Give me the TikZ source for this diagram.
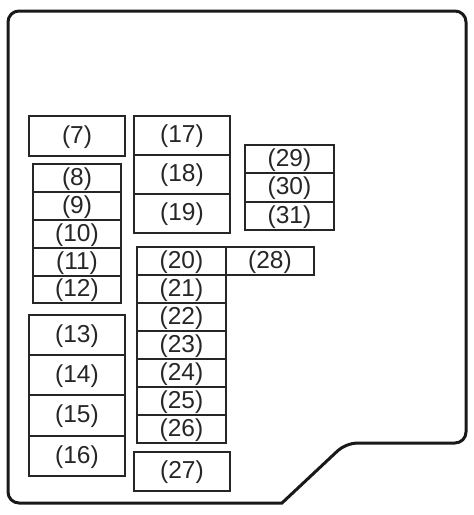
\documentclass[tikz,border=0pt]{standalone}
\usepackage{fontspec}
\setmainfont{Liberation Sans}
\begin{document}
\begin{tikzpicture}[x=1pt,y=-1pt,
  fuse/.style={draw=black!85,line width=1.2pt,inner sep=0pt,outer sep=0pt,text=black!85,font=\fontsize{24.5}{24.5}\selectfont}]
\useasboundingbox (0,0) rectangle (474,515);
% outline
\draw[line width=3pt,rounded corners=11pt,black!90]
  (8,11) -- (466,11) -- (466,443) -- (346,443) [sharp corners]-- (282,503) [rounded corners=11pt] -- (8,503) -- cycle;
\newcommand{\fusebox}[6]{% name x1 y1 x2 y2 label
  \node[fuse,minimum width=#4-#2,minimum height=#5-#3,anchor=north west] (#1) at (#2,#3) {\raisebox{-1pt}[0.73em][0.21em]{#6}};}
\fusebox{f7}{29}{116}{125}{156}{(7)}
\fusebox{f17}{134}{116}{230}{155}{(17)}
\fusebox{f18}{134}{155}{230}{194}{(18)}
\fusebox{f19}{134}{194}{230}{233}{(19)}
\fusebox{f8}{33}{164}{121}{192}{(8)}
\fusebox{f9}{33}{192}{121}{220}{(9)}
\fusebox{f10}{33}{220}{121}{248}{(10)}
\fusebox{f11}{33}{248}{121}{276}{(11)}
\fusebox{f12}{33}{276}{121}{303}{(12)}
\fusebox{f29}{245}{145}{334}{173}{(29)}
\fusebox{f30}{245}{173}{334}{202}{(30)}
\fusebox{f31}{245}{202}{334}{230}{(31)}
\fusebox{f20}{137}{247}{226}{275}{(20)}
\fusebox{f28}{226}{247}{314}{275}{(28)}
\fusebox{f21}{137}{275}{226}{303}{(21)}
\fusebox{f22}{137}{303}{226}{331}{(22)}
\fusebox{f23}{137}{331}{226}{359}{(23)}
\fusebox{f24}{137}{359}{226}{387}{(24)}
\fusebox{f25}{137}{387}{226}{415}{(25)}
\fusebox{f26}{137}{415}{226}{443}{(26)}
\fusebox{f13}{29}{315}{125}{355}{(13)}
\fusebox{f14}{29}{355}{125}{395}{(14)}
\fusebox{f15}{29}{395}{125}{436}{(15)}
\fusebox{f16}{29}{436}{125}{476}{(16)}
\fusebox{f27}{134}{452}{230}{491}{(27)}
\end{tikzpicture}
\end{document}
